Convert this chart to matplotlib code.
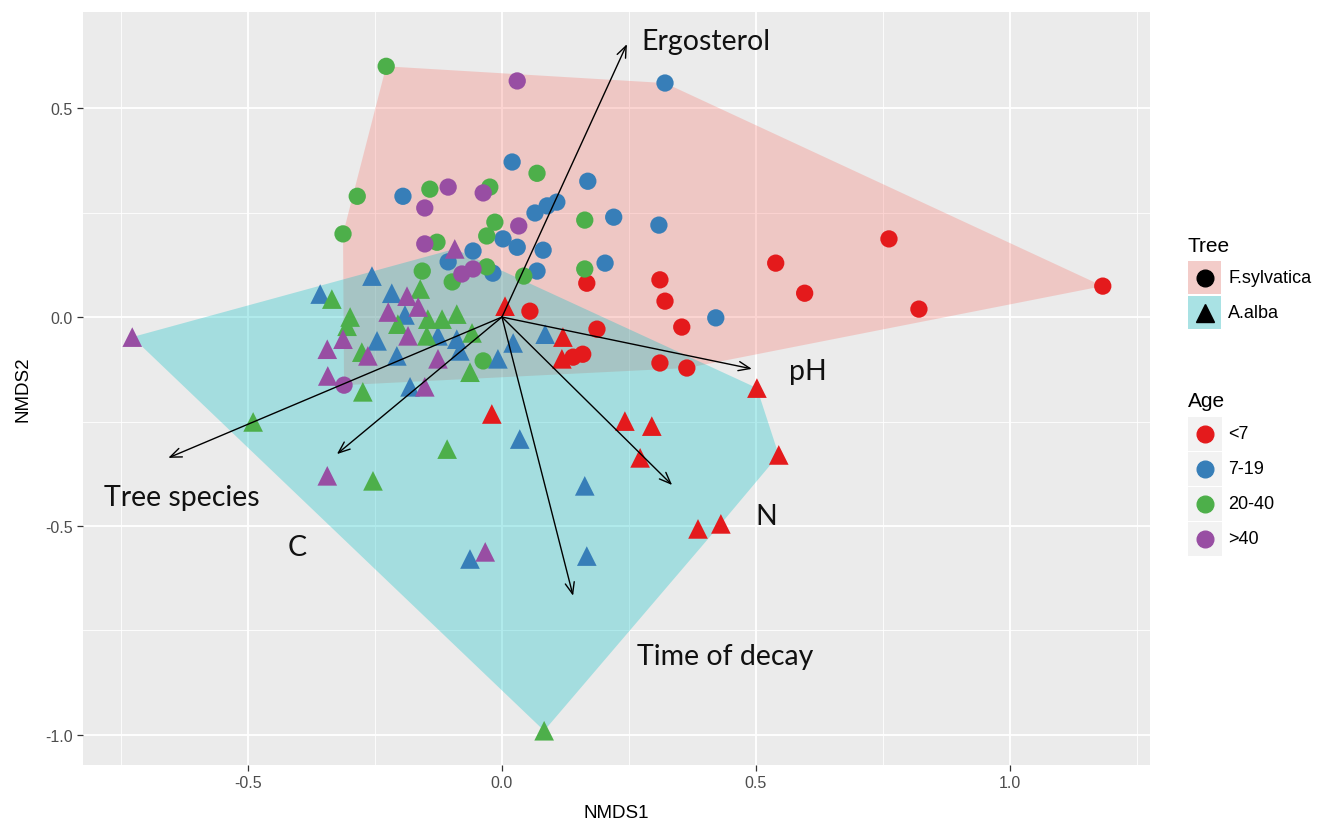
import numpy as np
import matplotlib
matplotlib.use("Agg")
import matplotlib.pyplot as plt
from matplotlib.lines import Line2D
from matplotlib.patches import Rectangle

plt.rcParams['font.family'] = ['Liberation Sans', 'DejaVu Sans']
plt.rcParams['axes.unicode_minus'] = False

# NMDS scores, one list per tree species / age class
# F.sylvatica (circles)
fs_lt7_x = [0.311, 0.321, 0.354, 0.539, 0.596, 0.762, 0.821, 1.183, 0.311, 0.364, 0.187, 0.055, 0.167, 0.140, 0.159]
fs_lt7_y = [0.089, 0.038, -0.024, 0.129, 0.057, 0.187, 0.019, 0.074, -0.110, -0.122, -0.029, 0.014, 0.081, -0.096, -0.089]
fs_7_19_x = [0.321, 0.020, 0.169, 0.108, 0.089, 0.065, 0.220, 0.309, -0.195, -0.057, 0.002, 0.030, 0.081, -0.106, -0.018, 0.069, 0.203, 0.421]
fs_7_19_y = [0.560, 0.371, 0.325, 0.275, 0.266, 0.249, 0.239, 0.220, 0.289, 0.158, 0.187, 0.167, 0.160, 0.132, 0.105, 0.110, 0.129, -0.002]
fs_20_40_x = [-0.228, -0.285, -0.313, -0.142, -0.128, -0.157, 0.069, 0.163, -0.024, -0.014, -0.030, 0.163, 0.043, -0.098, -0.030, -0.037]
fs_20_40_y = [0.600, 0.289, 0.199, 0.306, 0.179, 0.110, 0.344, 0.232, 0.311, 0.227, 0.194, 0.115, 0.098, 0.084, 0.120, -0.105]
fs_gt40_x = [0.030, -0.106, -0.152, -0.152, -0.037, 0.033, -0.079, -0.057, -0.311]
fs_gt40_y = [0.565, 0.311, 0.261, 0.175, 0.297, 0.218, 0.103, 0.115, -0.163]

# A.alba (triangles)
aa_lt7_x = [0.006, 0.120, 0.118, 0.502, -0.020, 0.242, 0.295, 0.272, 0.545, 0.386, 0.431]
aa_lt7_y = [0.026, -0.048, -0.100, -0.170, -0.232, -0.249, -0.261, -0.337, -0.330, -0.507, -0.495]
aa_7_19_x = [-0.358, -0.256, -0.217, -0.191, -0.246, -0.207, -0.126, -0.089, -0.083, 0.022, -0.008, 0.085, -0.181, 0.035, 0.163, -0.063, 0.167]
aa_7_19_y = [0.055, 0.098, 0.057, 0.005, -0.057, -0.093, -0.045, -0.053, -0.081, -0.062, -0.100, -0.041, -0.167, -0.292, -0.404, -0.579, -0.572]
aa_20_40_x = [-0.335, -0.299, -0.305, -0.161, -0.276, -0.274, -0.146, -0.118, -0.089, -0.148, -0.205, -0.059, -0.063, -0.490, -0.108, -0.254, 0.083]
aa_20_40_y = [0.043, 0.000, -0.022, 0.067, -0.084, -0.179, -0.005, -0.005, 0.007, -0.045, -0.017, -0.038, -0.132, -0.251, -0.316, -0.392, -0.990]
aa_gt40_x = [-0.728, -0.344, -0.313, -0.343, -0.264, -0.224, -0.187, -0.165, -0.185, -0.126, -0.152, -0.093, -0.344, -0.033]
aa_gt40_y = [-0.048, -0.077, -0.053, -0.141, -0.093, 0.012, 0.050, 0.024, -0.045, -0.100, -0.167, 0.163, -0.380, -0.562]

# fitted environmental vectors
vec_names = ['Ergosterol', 'pH', 'N', 'Time of decay', 'C', 'Tree species']
vec_x = [0.246, 0.492, 0.335, 0.140, -0.325, -0.657]
vec_y = [0.653, -0.124, -0.402, -0.667, -0.328, -0.337]
lab_x = [0.402, 0.602, 0.520, 0.439, -0.404, -0.630]
lab_y = [0.660, -0.129, -0.476, -0.811, -0.550, -0.431]

age_labels = ['<7', '7-19', '20-40', '>40']
age_colors = ['#E41A1C', '#377EB8', '#4DAF4A', '#984EA3']
tree_labels = ['F.sylvatica', 'A.alba']
tree_fill = ['#F8766D', '#00BFC4']
tree_marker = ['o', '^']


def hull(xs, ys):
    # monotone chain convex hull
    pts = sorted(set(zip(xs, ys)))
    def cross(o, a, b):
        return (a[0]-o[0])*(b[1]-o[1]) - (a[1]-o[1])*(b[0]-o[0])
    lower, upper = [], []
    for p in pts:
        while len(lower) >= 2 and cross(lower[-2], lower[-1], p) <= 0:
            lower.pop()
        lower.append(p)
    for p in reversed(pts):
        while len(upper) >= 2 and cross(upper[-2], upper[-1], p) <= 0:
            upper.pop()
        upper.append(p)
    return np.array(lower[:-1] + upper[:-1])


W, H = 1318, 828
fig = plt.figure(figsize=(W/100, H/100), dpi=100)
ax = fig.add_axes([83/W, 62/H, (1150-83)/W, (766-13)/H])
ax.set_facecolor('#EBEBEB')
for s in ax.spines.values():
    s.set_visible(False)

ax.set_xlim(-0.825, 1.276)
ax.set_ylim(-1.072, 0.730)
ax.set_xticks([-0.5, 0.0, 0.5, 1.0])
ax.set_xticklabels(['-0.5', '0.0', '0.5', '1.0'])
ax.set_yticks([-1.0, -0.5, 0.0, 0.5])
ax.set_yticklabels(['-1.0', '-0.5', '0.0', '0.5'])
ax.set_xticks([-0.75, -0.25, 0.25, 0.75, 1.25], minor=True)
ax.set_yticks([-0.75, -0.25, 0.25], minor=True)
ax.grid(which='major', color='white', lw=1.3)
ax.grid(which='minor', color='white', lw=0.6)
ax.set_axisbelow(True)
ax.tick_params(which='major', length=4, width=0.9, color='#333333',
               labelcolor='#4D4D4D', labelsize=11.5)
ax.tick_params(which='minor', length=0)
ax.set_xlabel('NMDS1', fontsize=13.5, labelpad=10)
ax.set_ylabel('NMDS2', fontsize=13.5, labelpad=10)

fs_x = fs_lt7_x + fs_7_19_x + fs_20_40_x + fs_gt40_x
fs_y = fs_lt7_y + fs_7_19_y + fs_20_40_y + fs_gt40_y
aa_x = aa_lt7_x + aa_7_19_x + aa_20_40_x + aa_gt40_x
aa_y = aa_lt7_y + aa_7_19_y + aa_20_40_y + aa_gt40_y
for (hx, hy), c in zip([(fs_x, fs_y), (aa_x, aa_y)], tree_fill):
    poly = hull(hx, hy)
    ax.fill(poly[:, 0], poly[:, 1], color=c, alpha=0.3, lw=0, zorder=1)

fs_groups = [(fs_lt7_x, fs_lt7_y), (fs_7_19_x, fs_7_19_y), (fs_20_40_x, fs_20_40_y), (fs_gt40_x, fs_gt40_y)]
aa_groups = [(aa_lt7_x, aa_lt7_y), (aa_7_19_x, aa_7_19_y), (aa_20_40_x, aa_20_40_y), (aa_gt40_x, aa_gt40_y)]
for (gx, gy), c in zip(fs_groups, age_colors):
    ax.scatter(gx, gy, s=155, marker='o', color=c, edgecolors='none', zorder=3)
for (gx, gy), c in zip(aa_groups, age_colors):
    ax.scatter(gx, gy, s=200, marker='^', color=c, edgecolors='none', zorder=3)

for name, vx, vy, lx, ly in zip(vec_names, vec_x, vec_y, lab_x, lab_y):
    ax.annotate('', xy=(vx, vy), xytext=(0, 0),
                arrowprops=dict(arrowstyle='->,head_length=0.55,head_width=0.22',
                                lw=1.0, color='black', shrinkA=0, shrinkB=0,
                                mutation_scale=15), zorder=4)
    ax.text(lx, ly, name, fontsize=20.5, family=['Lato', 'DejaVu Sans'],
            ha='center', va='center', color='#111111', zorder=5)


# legends drawn in figure pixel coordinates (y from top)
def fx(px):
    return px / W


def fy(py):
    return 1 - py / H


def key_box(x0, y0, size, face):
    fig.patches.append(Rectangle((fx(x0), fy(y0 + size)), size / W, size / H,
                                 transform=fig.transFigure, facecolor=face,
                                 edgecolor='none'))


fig.text(fx(1188), fy(246), 'Tree', fontsize=15, va='center', ha='left')
tree_keys_y = [262, 297]
for ky, lab, c, m in zip(tree_keys_y, tree_labels, tree_fill, tree_marker):
    key_box(1188, ky, 33, '#F2F2F2')
    key_box(1188, ky, 33, matplotlib.colors.to_rgba(c, 0.3))
    fig.add_artist(Line2D([fx(1204.5)], [fy(ky + 16.5)], marker=m, color='black',
                          markersize=12 if m == 'o' else 13, ls='',
                          transform=fig.transFigure))
    fig.text(fx(1228), fy(ky + 16.5), lab, fontsize=13, va='center', ha='left')

fig.text(fx(1188), fy(402), 'Age', fontsize=15, va='center', ha='left')
age_keys_y = [418, 453, 488, 523]
for ky, lab, c in zip(age_keys_y, age_labels, age_colors):
    key_box(1188, ky, 34, '#F2F2F2')
    fig.add_artist(Line2D([fx(1205)], [fy(ky + 17)], marker='o', color=c,
                          markersize=12, ls='', transform=fig.transFigure))
    fig.text(fx(1228), fy(ky + 17), lab, fontsize=13, va='center', ha='left')

fig.savefig('out.png', dpi=100, facecolor='white')
